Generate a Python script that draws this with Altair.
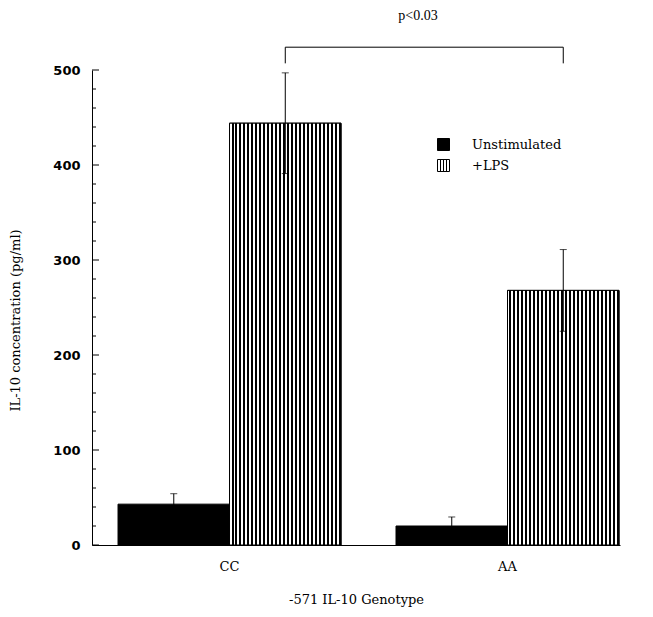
import altair as alt
import pandas as pd

# ---- data ----
genotypes = ["CC", "AA"]
conditions = ["Unstimulated", "+LPS"]
bar_genotype = ["CC", "CC", "AA", "AA"]
bar_condition = ["Unstimulated", "+LPS", "Unstimulated", "+LPS"]
bar_mean = [43, 444, 20, 268]
bar_sd = [11, 53, 9.5, 43]

y_major_ticks = [0, 100, 200, 300, 400, 500]
y_minor_ticks = [20, 40, 60, 80, 120, 140, 160, 180, 220, 240, 260, 280,
                 320, 340, 360, 380, 420, 440, 460, 480]

bracket_genotype = ["CC", "CC", "AA", "AA"]
bracket_condition = ["+LPS", "+LPS", "+LPS", "+LPS"]
bracket_y = [507, 524, 524, 507]
bracket_order = [0, 1, 2, 3]

p_label = ["p<0.03"]
p_genotype = ["AA"]
p_y = [557]

bars = pd.DataFrame({"genotype": bar_genotype, "condition": bar_condition,
                     "mean": bar_mean, "sd": bar_sd})
major = pd.DataFrame({"v": y_major_ticks})
minor = pd.DataFrame({"v": y_minor_ticks})
bracket = pd.DataFrame({"genotype": bracket_genotype, "condition": bracket_condition,
                        "by": bracket_y, "ord": bracket_order})
ptext = pd.DataFrame({"label": p_label, "genotype": p_genotype, "py": p_y})

SERIF = "DejaVu Serif"
YTITLE = "IL-10 concentration (pg/ml)"
XTITLE = "-571 IL-10 Genotype"

x_scale = alt.Scale(domain=genotypes, paddingInner=0.1978, paddingOuter=0.0486, align=0.963)
y_scale = alt.Scale(domain=[0, 500], nice=False, zero=True)

x_axis = alt.Axis(title=XTITLE, ticks=False, tickSize=0, labelAngle=0, labelPadding=15,
                  labelFont=SERIF, labelFontSize=13, labelColor="black",
                  titleFont=SERIF, titleFontSize=13, titleFontWeight="normal",
                  titleColor="black", titleY=48, grid=False,
                  domainColor="black", domainWidth=1)
y_axis = alt.Axis(title=YTITLE, values=y_major_ticks, ticks=False, tickSize=0,
                  labelPadding=12, labelFont="DejaVu Sans", labelFontWeight="bold",
                  labelFontSize=13, labelColor="black",
                  titleFont=SERIF, titleFontSize=13, titleFontWeight="normal",
                  titleColor="black", titleX=-70, titleY=250, grid=False,
                  domainColor="black", domainWidth=1)


def X():
    return alt.X("genotype:N", scale=x_scale, axis=x_axis, title=XTITLE)


def XO():
    return alt.XOffset("condition:N", scale=alt.Scale(domain=conditions, paddingInner=0, paddingOuter=0))


def Y(field):
    return alt.Y(field, type="quantitative", scale=y_scale, axis=y_axis, title=YTITLE)


# stripes as a hard-stop gradient
n_stripes = 28
stops = []
for k in range(n_stripes):
    a = k / n_stripes
    m = (k + 0.5) / n_stripes
    b = (k + 1) / n_stripes
    stops += [{"offset": a, "color": "white"}, {"offset": m, "color": "white"},
              {"offset": m, "color": "black"}, {"offset": b, "color": "black"}]
stripes = {"gradient": "linear", "x1": 0, "y1": 0, "x2": 1, "y2": 0, "stops": stops}

legend_symbol = "M-1,-1H1V1H-1Z M-0.5,-1V1 M0,-1V1 M0.5,-1V1"

base_bars = alt.Chart(bars).mark_bar(stroke="black", strokeWidth=1).encode(
    x=X(), xOffset=XO(), y=Y("mean"),
    fill=alt.Fill("condition:N",
                  scale=alt.Scale(domain=conditions, range=["black", "white"]),
                  legend=alt.Legend(title=None, orient="none", legendX=345, legendY=68,
                                    symbolType=legend_symbol, symbolSize=144,
                                    symbolStrokeColor="black", symbolStrokeWidth=1,
                                    symbolOpacity=1,
                                    labelFont=SERIF, labelFontSize=13, labelColor="black",
                                    labelOffset=22, rowPadding=4)),
)

striped = alt.Chart(bars).transform_filter(
    alt.datum.condition == "+LPS"
).mark_bar(fill=stripes, stroke="black", strokeWidth=1).encode(
    x=X(), xOffset=XO(), y=Y("mean"),
)

err = alt.Chart(bars).transform_calculate(
    hi="datum.mean + datum.sd", lo="datum.mean - datum.sd"
)
err_rule = err.mark_rule(color="black", strokeWidth=1).encode(
    x=X(), xOffset=XO(), y=Y("lo"), y2="hi:Q")
err_top = err.mark_tick(orient="horizontal", size=7, thickness=1, color="black").encode(
    x=X(), xOffset=XO(), y=Y("hi"))
err_bot = err.mark_tick(orient="horizontal", size=7, thickness=1, color="black").encode(
    x=X(), xOffset=XO(), y=Y("lo"))

major_ticks = alt.Chart(major).mark_rule(color="black", strokeWidth=1).encode(
    x=alt.value(0), x2=alt.value(7), y=Y("v"))
minor_ticks = alt.Chart(minor).mark_rule(color="black", strokeWidth=1).encode(
    x=alt.value(0), x2=alt.value(4), y=Y("v"))

bracket_line = alt.Chart(bracket).mark_line(color="black", strokeWidth=1).encode(
    x=X(), xOffset=XO(), y=Y("by"), order="ord:Q")

p_text = alt.Chart(ptext).mark_text(font="Liberation Serif", fontSize=14, color="black",
                                    dx=-89.5).encode(
    x=X(), y=Y("py"), text="label:N")

chart = alt.layer(
    base_bars, striped, err_rule, err_top, err_bot,
    major_ticks, minor_ticks, bracket_line, p_text
).properties(
    width=528, height=475,
    autosize=alt.AutoSizeParams(type="none"),
    padding={"left": 84, "top": 62, "right": 25, "bottom": 70},
    background="white",
).configure_view(stroke=None)

chart.save("out.html", embed_options={"renderer": "svg", "actions": False})
